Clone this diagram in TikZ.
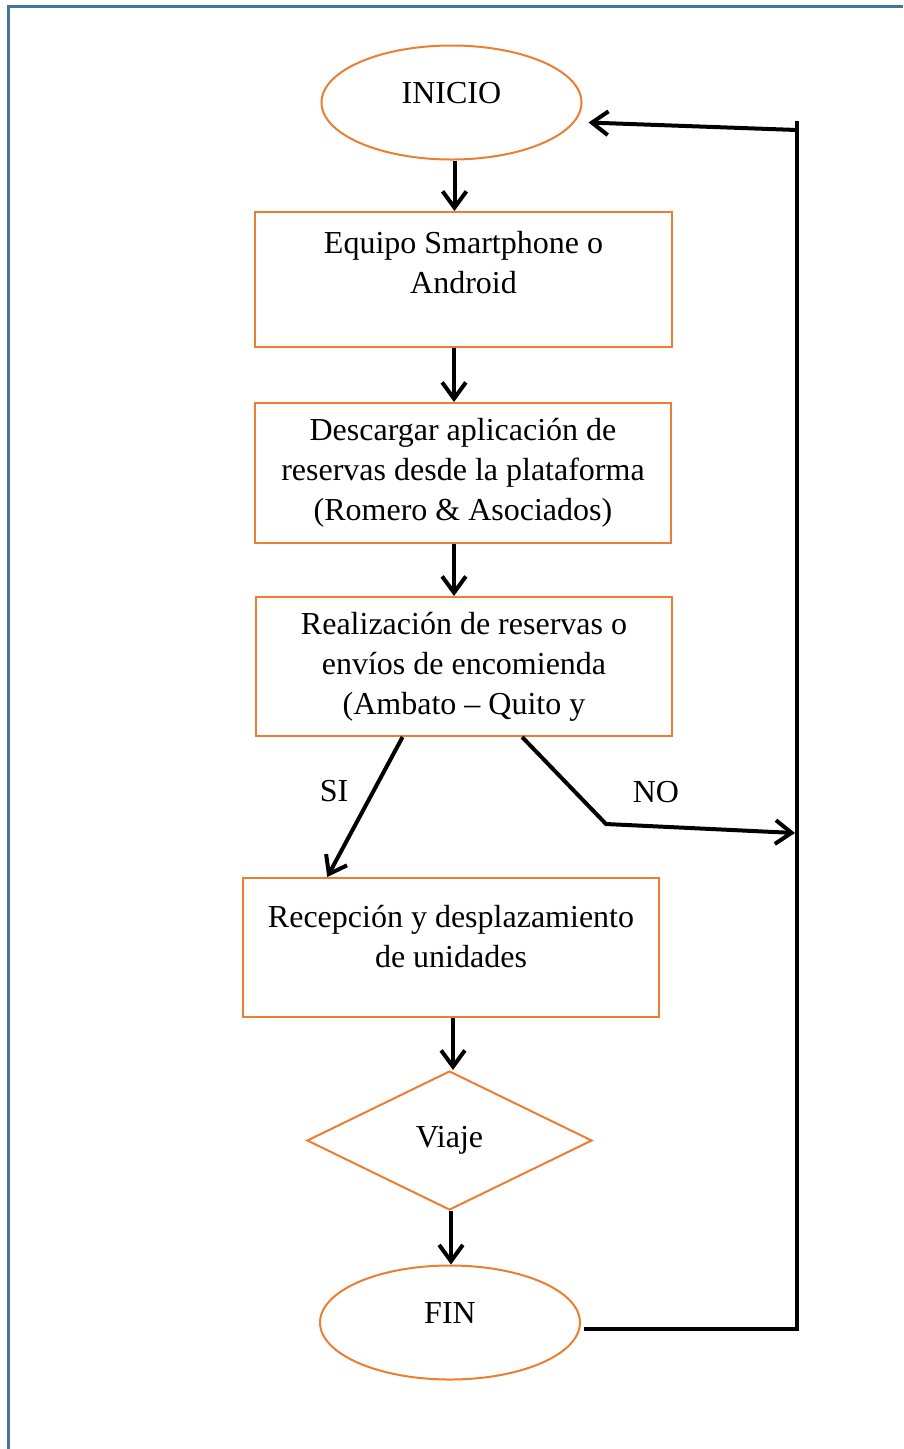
\documentclass[tikz,border=0pt]{standalone}
\usepackage{fontspec}
\setmainfont{Liberation Serif}
\usetikzlibrary{shapes.geometric,arrows.meta,calc}
\definecolor{flujonaranja}{HTML}{ED7D31}
\definecolor{flujoborde}{HTML}{4672A0}

\begin{document}
\begin{tikzpicture}[x=0.4pt,y=-0.4pt,
    caja/.style={draw=flujonaranja,line width=0.8pt,minimum width=166.4pt,minimum height=55.6pt,inner sep=0pt},
    elipse/.style={ellipse,draw=flujonaranja,line width=0.8pt,minimum width=104pt,minimum height=45.6pt,inner sep=0pt},
    rombo/.style={diamond,draw=flujonaranja,line width=0.8pt,minimum width=114pt,minimum height=55.6pt,inner sep=0pt},
    texto/.style={align=center,font=\fontsize{12.8}{16}\selectfont},
    linea/.style={line width=1.6pt},
    flecha/.style={linea,-{Straight Barb[length=6.5pt,width=9.5pt]}}]
            \useasboundingbox (0,0) rectangle (903,1449);
            \draw[flujoborde,line width=1.2pt] (8.5,1449) -- (8.5,6.3) -- (903,6.3);

            % figuras
            \node[elipse] (inicio) at (451.5,102.5) {};
            \node[caja,minimum height=54pt] (equipo) at (463.5,279.5) {};
            \node[caja,minimum height=56pt] (descarga) at (463,473) {};
            \node[caja] (realiza) at (464,666.5) {};
            \node[caja] (recepcion) at (451,947.5) {};
            \node[rombo,texto] (viaje) at (449.5,1140.5) {Viaje};
            \node[elipse] (fin) at (450,1322.5) {};

            % textos
            \node[texto] (t-inicio) at (451.5,93) {INICIO};
            \node[texto] (t-equipo) at (463.5,263) {Equipo Smartphone o\\Android};
            \node[texto] (t-descarga) at (463,473) {Descargar aplicación de\\reservas desde la plataforma\\(Romero \& Asociados)};
            \node[texto] (t-realiza) at (464,667) {Realización de reservas o\\envíos de encomienda\\(Ambato -- Quito y};
            \node[texto] (t-recepcion) at (451,936.5) {Recepción y desplazamiento\\de unidades};
            \node[texto] (t-fin) at (450,1313) {FIN};
            \node[texto] (si) at (334,791) {SI};
            \node[texto] (no) at (656,792) {NO};

            \coordinate (codo) at (606,824);
            \coordinate (no-fin) at (795,833);
            \coordinate (ret-arriba) at (797,121);
            \coordinate (fin-sal) at ($(fin.east)+(3,6)$);

            % conectores
            \draw[flecha] ($(inicio.south)+(3,0)$) -- ($(inicio.south |- equipo.north)+(3,0)$);
            \draw[flecha] ($(equipo.south)+(-9.5,0)$) -- ($(descarga.north)+(-9,0)$);
            \draw[flecha] ($(descarga.south)+(-9,0)$) -- ($(realiza.north)+(-10,0)$);
            \draw[flecha] ($(realiza.south west)!0.353!(realiza.south east)$) -- ($(recepcion.north west)!0.204!(recepcion.north east)$);
            \draw[flecha] ($(realiza.south west)!0.639!(realiza.south east)$) -- (codo) -- (no-fin);
            \draw[flecha] ($(recepcion.south)+(2,0)$) -- ($(viaje.north)+(3.5,0)$);
            \draw[flecha] ($(viaje.south)+(1.5,0)$) -- ($(fin.north)+(1,0)$);
            \draw[linea] (fin-sal) -- (fin-sal -| ret-arriba) -- (ret-arriba);
            \draw[flecha] ($(ret-arriba)+(0,9)$) -- ($(inicio.east)+(6,20)$);
\end{tikzpicture}
\end{document}
